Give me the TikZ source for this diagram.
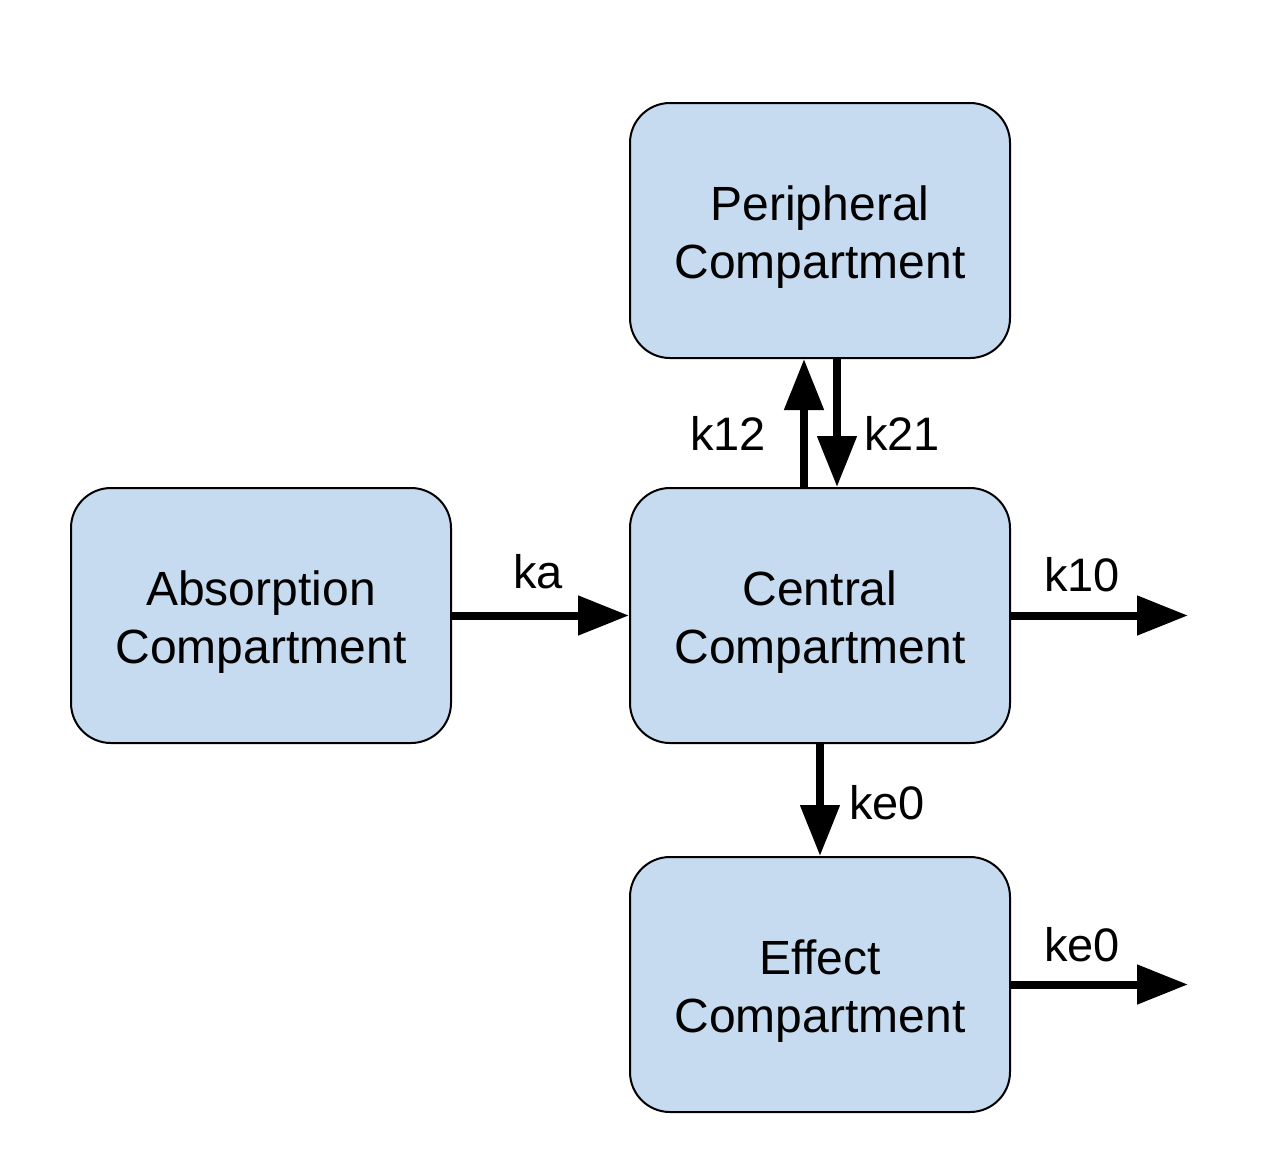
\documentclass[tikz,border=0pt]{standalone}
\usepackage{fontspec}
\setmainfont{Liberation Sans}
\usetikzlibrary{arrows.meta}
\definecolor{boxfill}{HTML}{C6DBEF}
\newcommand{\lowerstrut}{\rule{0pt}{23.5pt}}
\begin{document}
\begin{tikzpicture}[x=0.5pt,y=-0.5pt,
  comp/.style={draw=black,line width=1pt,fill=boxfill,rounded corners=20pt,
    minimum width=190pt,minimum height=127.5pt,align=center,
    font=\fontsize{24}{29}\selectfont},
  flow/.style={line width=4pt,-{Triangle[length=25.5pt,width=19pt]}},
  lbl/.style={anchor=base,font=\fontsize{23.5}{29}\selectfont}]
\useasboundingbox (0,0) rectangle (1270,1164);
\node[comp] (per) at (820,230.5) {\lowerstrut Peripheral\\Compartment};
\node[comp] (abs) at (261,615.5) {\lowerstrut Absorption\\Compartment};
\node[comp] (cen) at (820,615.5) {\lowerstrut Central\\Compartment};
\node[comp] (eff) at (820,984.5) {\lowerstrut Effect\\Compartment};
\coordinate (out1) at (1188,615.5);
\coordinate (out2) at (1188,984.5);
\draw[flow] (abs.east) -- (cen.west);
\draw[flow] (cen.east) -- (out1);
\draw[flow] (cen.south) -- (eff.north);
\draw[flow] (eff.east) -- (out2);
\draw[flow] (cen.north -| 804,0) -- (per.south -| 804,0);
\draw[flow] (per.south -| 837,0) -- (cen.north -| 837,0);
\node[lbl] (lka) at (538,588) {ka};
\node[lbl] (lk10) at (1082,591) {k10};
\node[lbl] (lk12) at (728,450) {k12};
\node[lbl] (lk21) at (902,450) {k21};
\node[lbl] (lke1) at (887,819) {ke0};
\node[lbl] (lke2) at (1082,961) {ke0};
\end{tikzpicture}
\end{document}
